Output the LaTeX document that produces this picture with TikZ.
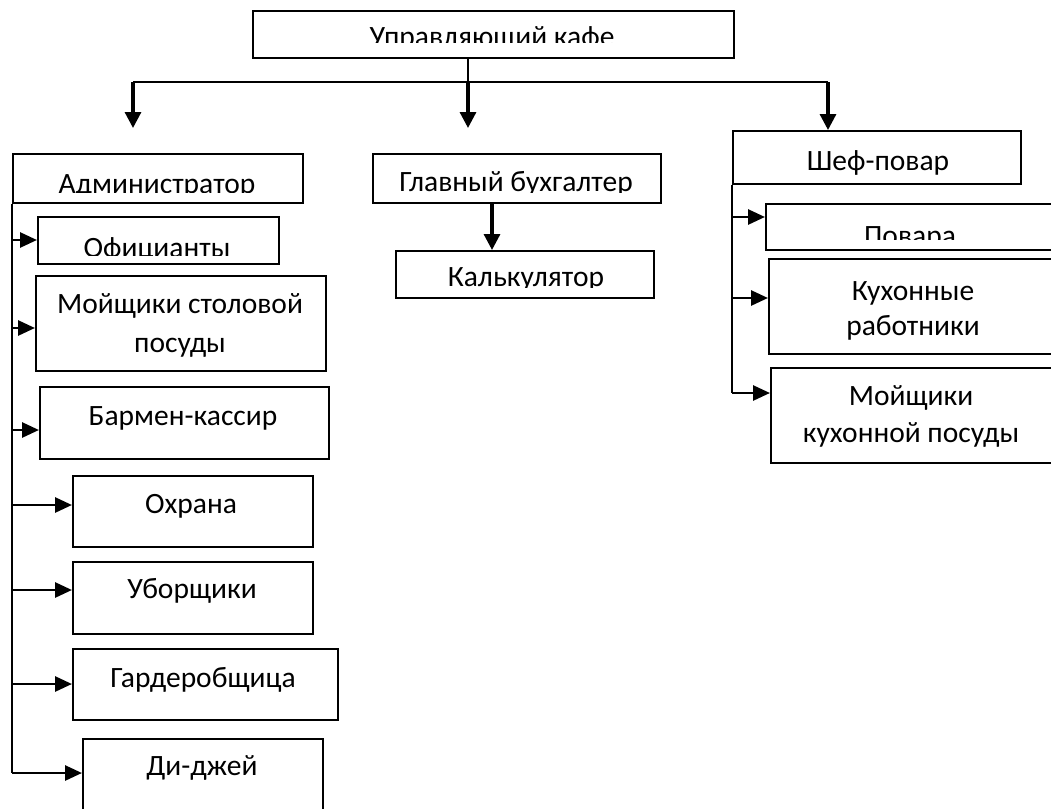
\documentclass[tikz,border=0pt]{standalone}
\usepackage{fontspec}
\setmainfont{Carlito}
\usetikzlibrary{arrows.meta}
\begin{document}
\begin{tikzpicture}[x=1pt,y=-1pt,
  box/.style={draw, line width=2pt, inner sep=0pt, anchor=north west},
  lbl/.style={inner sep=0pt, anchor=base, font=\fontsize{29.5}{35}\selectfont, align=center},
  arr/.style={-{Triangle[length=17pt,width=15pt]}, line width=2.8pt},
  varr/.style={-{Triangle[length=16pt,width=16pt]}, line width=3.2pt},
  tline/.style={line width=2pt},
  bline/.style={line width=2.6pt}]
\clip (0,0) rectangle (1051,808);
\fill[white] (0,0) rectangle (1051,808);
% boxes
\node[box, minimum width=481pt, minimum height=47pt] (top) at (252,10) {};
\node[box, minimum width=290pt, minimum height=49pt] (adm) at (12,153) {};
\node[box, minimum width=241pt, minimum height=47pt] (off) at (37,216) {};
\node[box, minimum width=290pt, minimum height=95pt] (moy) at (35,275) {};
\node[box, minimum width=289pt, minimum height=72pt] (bar) at (39,386) {};
\node[box, minimum width=240pt, minimum height=71pt] (ohr) at (72,475) {};
\node[box, minimum width=240pt, minimum height=72pt] (ubo) at (72,561) {};
\node[box, minimum width=265pt, minimum height=71pt] (gar) at (72,648) {};
\node[box, minimum width=240pt, minimum height=92pt] (dj) at (82,738) {};
\node[box, minimum width=288pt, minimum height=49pt] (gb) at (372,153) {};
\node[box, minimum width=258pt, minimum height=47pt] (kal) at (395,250) {};
\node[box, minimum width=288pt, minimum height=53pt] (chef) at (732,130) {};
\node[box, minimum width=295pt, minimum height=46pt] (pov) at (765,203) {};
\node[box, minimum width=292pt, minimum height=95pt] (kuh) at (768,258) {};
\node[box, minimum width=290pt, minimum height=95pt] (mkp) at (770,367) {};
% clipped labels
\begin{scope}\clip (252,10) rectangle (733,43);
  \node[lbl] (tTop) at (492,47) {Управляющий кафе};\end{scope}
\begin{scope}\clip (12,153) rectangle (302,192);
  \node[lbl] (tAdm) at (157,193) {Администратор};\end{scope}
\begin{scope}\clip (372,153) rectangle (660,192);
  \node[lbl] (tGb) at (516,191) {Главный бухгалтер};\end{scope}
\begin{scope}\clip (395,250) rectangle (653,287);
  \node[lbl] (tKal) at (526,286) {Калькулятор};\end{scope}
\begin{scope}\clip (37,216) rectangle (278,255);
  \node[lbl] (tOff) at (157,257) {Официанты};\end{scope}
\begin{scope}\clip (765,203) rectangle (1060,239);
  \node[lbl] (tPov) at (910,245) {Повара};\end{scope}
% other labels
\node[lbl, font=\fontsize{29.5}{39}\selectfont] (tMoy) at (180,352) {Мойщики столовой\\посуды};
\node[lbl] (tBar) at (183,425) {Бармен-кассир};
\node[lbl] (tOhr) at (191,513) {Охрана};
\node[lbl] (tUbo) at (192,598) {Уборщики};
\node[lbl] (tGar) at (203,687) {Гардеробщица};
\node[lbl] (tDj) at (202,775) {Ди-джей};
\node[lbl] (tChef) at (878,170) {Шеф-повар};
\node[lbl, font=\fontsize{29.5}{35}\selectfont] (tKuh) at (913,335) {Кухонные\\работники};
\node[lbl, font=\fontsize{29.5}{37}\selectfont] (tMkp) at (911,442) {Мойщики\\кухонной посуды};
% top distribution
\coordinate (j) at (468,82);
\coordinate (jl) at (133,82);
\coordinate (jr) at (828,82);
\coordinate (el) at (133,128);
\coordinate (em) at (468,128);
\draw[tline] (top.south -| j) -- (j);
\draw[tline] (jl) -- (jr);
\draw[varr] (jl) -- (el);
\draw[varr] (j) -- (em);
\draw[varr] (jr) -- (jr |- chef.north);
% middle
\draw[varr] (gb.south -| 492,0) -- (kal.north -| 492,0);
% left bracket
\coordinate (lb) at (12,773);
\draw[bline] (adm.south west) -- (lb);
\foreach \n/\yy in {off/240, moy/328, bar/430, ohr/505, ubo/590, gar/684, dj/773}
  \draw[arr] (12,\yy) -- (\n.west |- 0,\yy);
% right bracket
\coordinate (rb) at (732,393);
\draw[bline] (chef.south west) -- (rb);
\foreach \n/\yy in {pov/217, kuh/298, mkp/393}
  \draw[arr] (732,\yy) -- (\n.west |- 0,\yy);
\end{tikzpicture}
\end{document}
